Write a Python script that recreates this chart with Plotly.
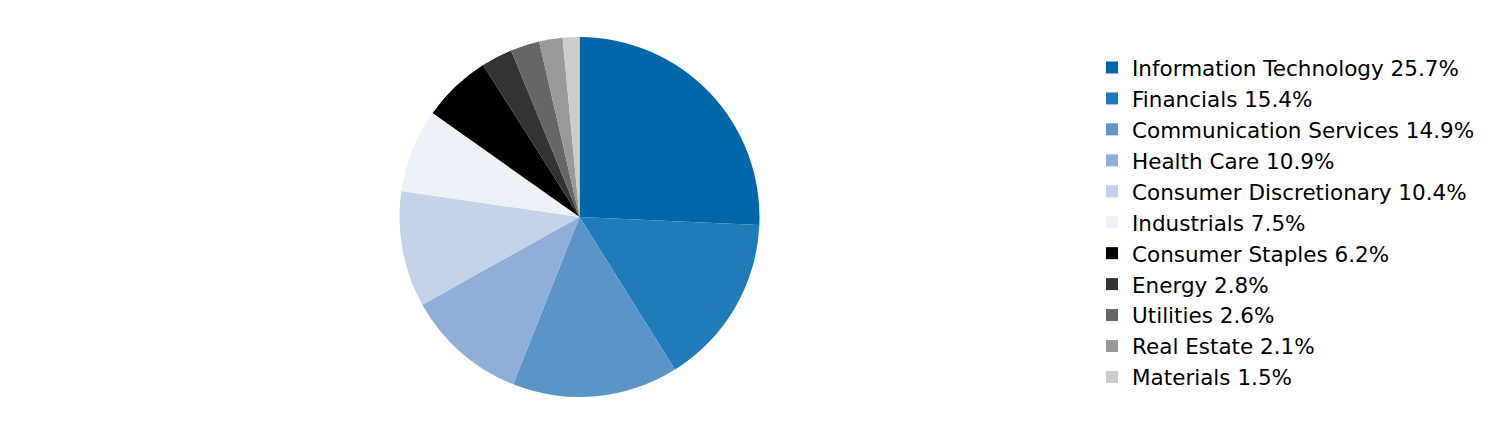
import plotly.graph_objects as go

sectors = ["Information Technology", "Financials", "Communication Services", "Health Care",
           "Consumer Discretionary", "Industrials", "Consumer Staples", "Energy",
           "Utilities", "Real Estate", "Materials"]
weights = [25.7, 15.4, 14.9, 10.9, 10.4, 7.5, 6.2, 2.8, 2.6, 2.1, 1.5]
colors = ["#0066aa", "#1f7bb9", "#5b95c7", "#8faed8", "#c3d3e9", "#edf2f9",
          "#000000", "#333333", "#666666", "#999999", "#cccccc"]

labels = [f"{s} {w}%" for s, w in zip(sectors, weights)]

W, H = 1512, 444
cx, cy, r = 571.5, 209, 180

fig = go.Figure(go.Pie(
    labels=labels,
    values=weights,
    marker=dict(colors=colors, line=dict(width=0)),
    sort=False,
    direction="clockwise",
    rotation=0,
    textinfo="none",
    hoverinfo="label",
    domain=dict(x=[(cx - r) / W, (cx + r) / W], y=[(H - cy - r) / H, (H - cy + r) / H]),
))

fig.update_layout(
    width=W, height=H,
    margin=dict(l=0, r=0, t=0, b=0),
    paper_bgcolor="white",
    plot_bgcolor="white",
    font=dict(family="DejaVu Sans, Verdana, sans-serif", size=21.5, color="#000000"),
    legend=dict(x=1084 / W, y=(H - 39) / H, xanchor="left", yanchor="top",
                font=dict(size=21.5), bgcolor="rgba(0,0,0,0)"),
)

fig.write_html("out.html")
